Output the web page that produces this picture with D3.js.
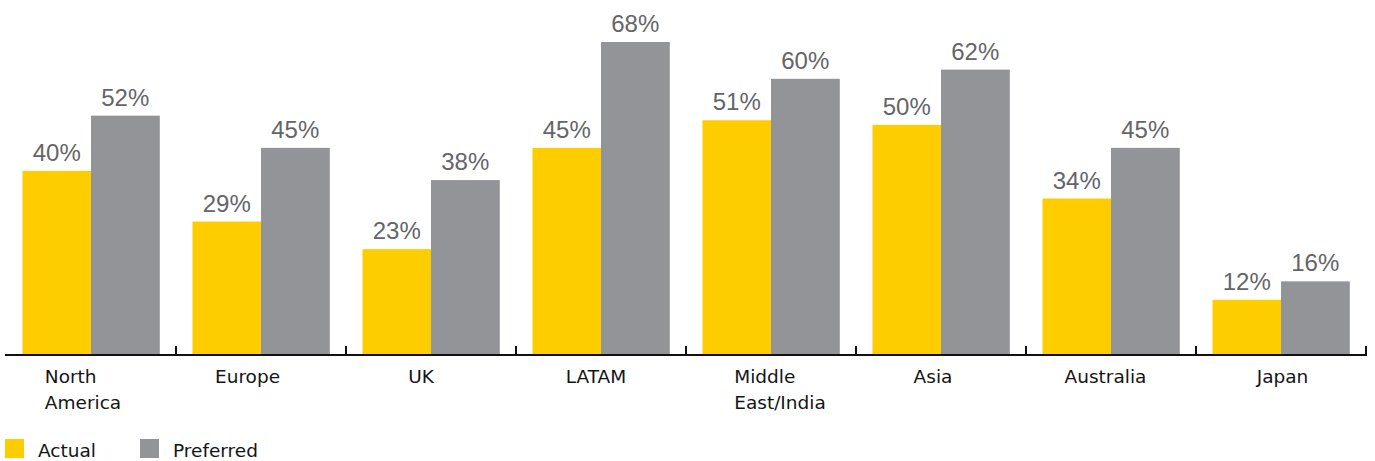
<!DOCTYPE html>
<html>
<head>
<meta charset="utf-8">
<script src="https://cdn.jsdelivr.net/npm/d3@7"></script>
<style>
  html, body { margin: 0; padding: 0; background: #ffffff; }
  svg { display: block; }
</style>
</head>
<body>
<svg id="chart" width="1375" height="461"></svg>
<script>
// ---- data ----
const categories = [["North", "America"], ["Europe"], ["UK"], ["LATAM"], ["Middle", "East/India"], ["Asia"], ["Australia"], ["Japan"]];
const seriesNames = ["Actual", "Preferred"];
const actual = [40, 29, 23, 45, 51, 50, 34, 12];
const preferred = [52, 45, 38, 68, 60, 62, 45, 16];

// ---- layout / style ----
const W = 1375, H = 461;
const colors = ["#FECD00", "#939498"];
const labelShift = [-8, -13.5, -9.5, -5, 9, -8, -5.5, 2];
const catFont = "DejaVu Sans";
const valFont = "Liberation Sans";

const svg = d3.select("#chart");
const keys = categories.map((c, i) => i);
const x0 = d3.scaleBand().domain(keys).range([6, 1366]).paddingInner(0.194).paddingOuter(0.097);
const x1 = d3.scaleBand().domain(seriesNames).range([0, x0.bandwidth()]);
const y = d3.scaleLinear().domain([0, 68]).range([355, 42]);
const color = d3.scaleOrdinal().domain(seriesNames).range(colors);

const rows = keys.map(i => ({ i, values: [actual[i], preferred[i]] }));

const g = svg.append("g");
const groups = g.selectAll("g.grp").data(rows).join("g")
  .attr("class", "grp")
  .attr("transform", d => `translate(${x0(d.i)},0)`);

groups.selectAll("rect").data(d => d.values.map((v, k) => ({ k: seriesNames[k], v })))
  .join("rect")
  .attr("x", d => x1(d.k))
  .attr("width", x1.bandwidth() + 0.3)
  .attr("y", d => y(d.v))
  .attr("height", d => y(0) - y(d.v))
  .attr("fill", d => color(d.k));

groups.selectAll("text.val").data(d => d.values.map((v, k) => ({ k: seriesNames[k], v })))
  .join("text")
  .attr("class", "val")
  .attr("x", d => x1(d.k) + x1.bandwidth() / 2)
  .attr("y", d => y(d.v) - 10)
  .attr("text-anchor", "middle")
  .attr("font-family", valFont)
  .attr("font-size", 24)
  .attr("fill", "#646568")
  .text(d => d.v + "%");

// axis line
const step = x0.step();
const r0 = x0.range()[0], r1 = x0.range()[1];
svg.append("line")
  .attr("x1", r0 - 1).attr("x2", r1 + 1)
  .attr("y1", y(0)).attr("y2", y(0))
  .attr("stroke", "#111").attr("stroke-width", 2);
// ticks at band boundaries
svg.selectAll("line.tick").data(keys).join("line")
  .attr("class", "tick")
  .attr("x1", i => r0 + step * (i + 1)).attr("x2", i => r0 + step * (i + 1))
  .attr("y1", y(0)).attr("y2", y(0) - 9)
  .attr("stroke", "#111").attr("stroke-width", 2);

// category labels
const lab = svg.selectAll("g.lab").data(keys).join("g").attr("class", "lab");
lab.each(function(i) {
  const gg = d3.select(this);
  const t = gg.append("text")
    .attr("font-family", catFont)
    .attr("font-size", 18.5)
    .attr("fill", "#141414");
  categories[i].forEach((line, li) => {
    t.append("tspan").attr("x", 0).attr("y", 383 + li * 26).text(line);
  });
  const bb = t.node().getBBox();
  const cx = x0(i) + x0.bandwidth() / 2 + labelShift[i];
  gg.attr("transform", `translate(${cx - bb.width / 2},0)`);
});

// legend
const legX = [5, 140];
const leg = svg.selectAll("g.leg").data(seriesNames).join("g")
  .attr("class", "leg")
  .attr("transform", (d, k) => `translate(${legX[k]},439)`);
leg.append("rect").attr("width", 19).attr("height", 19).attr("fill", d => color(d));
leg.append("text")
  .attr("x", 33).attr("y", 18)
  .attr("font-family", catFont)
  .attr("font-size", 18.5)
  .attr("fill", "#141414")
  .text(d => d);
</script>
</body>
</html>
